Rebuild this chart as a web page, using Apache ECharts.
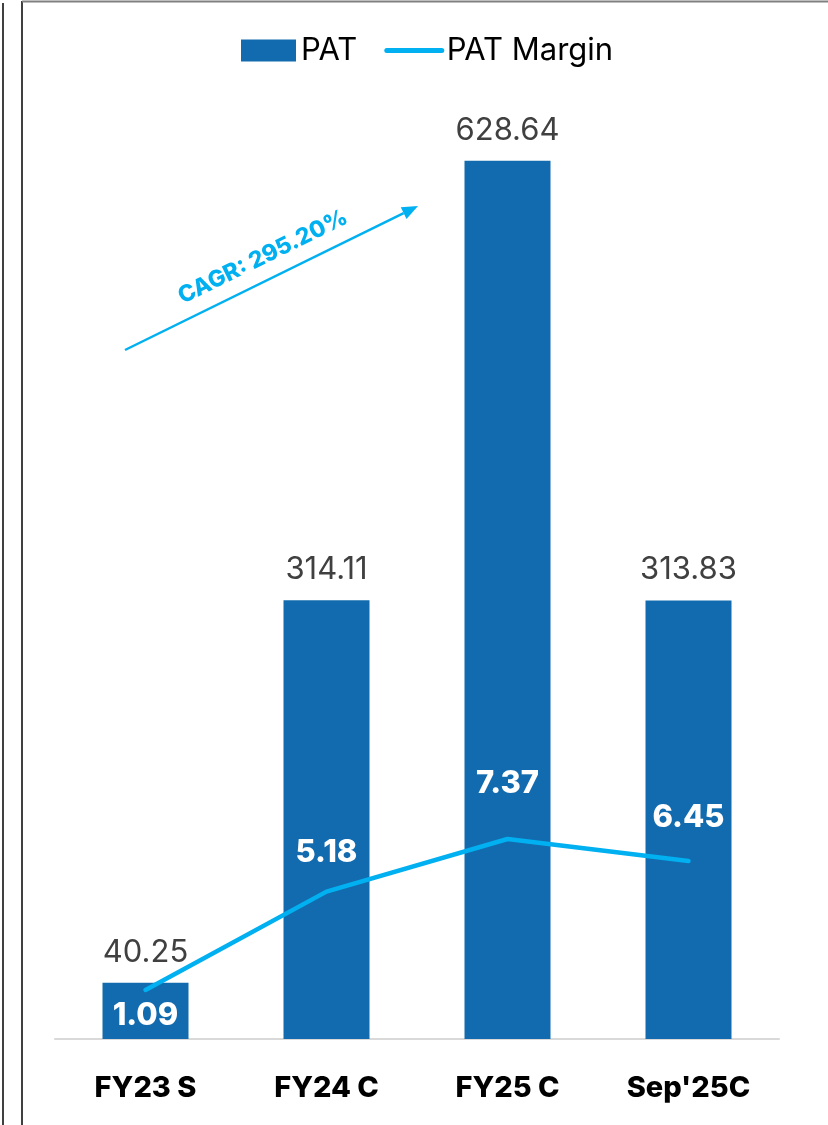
<!DOCTYPE html>
<html>
<head>
<meta charset="utf-8">
<script src="https://cdn.jsdelivr.net/npm/echarts@6/dist/echarts.min.js"></script>
<style>
html,body{margin:0;padding:0;background:#fff;}
#c{width:828px;height:1125px;}
</style>
</head>
<body>
<div id="c"></div>
<script>
const categories = ["FY23 S", "FY24 C", "FY25 C", "Sep'25C"];
const patValues = [40.25, 314.11, 628.64, 313.83];
const marginValues = [1.09, 5.18, 7.37, 6.45];
const cagrText = "CAGR: 295.20%";

const FONT = "Inter, 'Noto Sans', sans-serif";
const BAR = '#126BAE';
const LINE = '#00B0F0';

// per-point label placement for margin labels
const marginLabelPos = ['bottom', 'top', 'top', 'top'];
const marginLabelDist = [10, 23, 39, 27];

const chart = echarts.init(document.getElementById('c'), null, {renderer: 'canvas'});

// arrow geometry (annotation)
const ax0 = 125, ay0 = 350, ax1 = 418, ay1 = 206;
const len = Math.hypot(ax1 - ax0, ay1 - ay0);
const ux = (ax1 - ax0) / len, uy = (ay1 - ay0) / len;
const hl = 16, hw = 6.5;
const bx = ax1 - hl * ux, by = ay1 - hl * uy;
const px = -uy, py = ux;

chart.setOption({
  backgroundColor: '#fff',
  animation: false,
  textStyle: {fontFamily: FONT},
  legend: {
    top: 30,
    left: 236,
    itemWidth: 55,
    itemHeight: 22,
    itemGap: 27,
    itemTextGap: 1,
    textStyle: {fontSize: 31, color: '#000', fontFamily: FONT},
    data: [
      {name: 'PAT', icon: 'rect'},
      {name: 'PAT Margin', itemStyle: {opacity: 0}, lineStyle: {width: 5, color: LINE, cap: 'round'}}
    ]
  },
  grid: {left: 55, right: 49, top: 61, bottom: 86, containLabel: false},
  xAxis: {
    type: 'category',
    data: categories,
    axisTick: {show: false},
    axisLine: {lineStyle: {color: '#D9D9D9', width: 2}},
    axisLabel: {fontSize: 29, fontWeight: 800, color: '#000', margin: 35, fontFamily: FONT}
  },
  yAxis: [
    {type: 'value', min: 0, max: 700, show: false, splitLine: {show: false}},
    {type: 'value', min: -0.95, max: 39.73, show: false, splitLine: {show: false}}
  ],
  series: [
    {
      name: 'PAT',
      type: 'bar',
      data: patValues,
      barWidth: 86,
      itemStyle: {color: BAR},
      label: {show: true, position: 'top', distance: 15, fontSize: 31, color: '#404040', fontFamily: FONT},
      z: 2
    },
    {
      name: 'PAT Margin',
      type: 'line',
      yAxisIndex: 1,
      data: marginValues,
      symbol: 'none',
      lineStyle: {color: LINE, width: 4.5, cap: 'round'},
      itemStyle: {color: LINE},
      z: 3
    },
    {
      name: 'marginLabels',
      type: 'scatter',
      yAxisIndex: 1,
      data: marginValues.map((v, i) => ({
        value: v,
        label: {position: marginLabelPos[i], distance: marginLabelDist[i]}
      })),
      symbolSize: 1,
      itemStyle: {color: 'rgba(0,0,0,0)', opacity: 1},
      label: {show: true, color: '#ffffff', fontSize: 31, fontWeight: 800, fontFamily: FONT},
      silent: true,
      z: 4
    }
  ],
  graphic: [
    {type: 'line', shape: {x1: 3, y1: 3, x2: 3, y2: 1125}, style: {stroke: '#000', lineWidth: 1.5}},
    {type: 'line', shape: {x1: 22, y1: 1, x2: 22, y2: 1125}, style: {stroke: '#000', lineWidth: 1.5}},
    {type: 'line', shape: {x1: 22, y1: 1.5, x2: 828, y2: 1.5}, style: {stroke: '#808080', lineWidth: 2}},
    {type: 'line', shape: {x1: ax0, y1: ay0, x2: bx, y2: by}, style: {stroke: LINE, lineWidth: 2.5}},
    {type: 'polygon', shape: {points: [[ax1, ay1], [bx + hw * px, by + hw * py], [bx - hw * px, by - hw * py]]}, style: {fill: LINE}},
    {
      type: 'text',
      x: 263, y: 257,
      rotation: Math.atan2(ay0 - ay1, ax1 - ax0),
      style: {text: cagrText, fill: LINE, font: "800 23px " + FONT, align: 'center', verticalAlign: 'middle'}
    }
  ]
});
</script>
</body>
</html>
